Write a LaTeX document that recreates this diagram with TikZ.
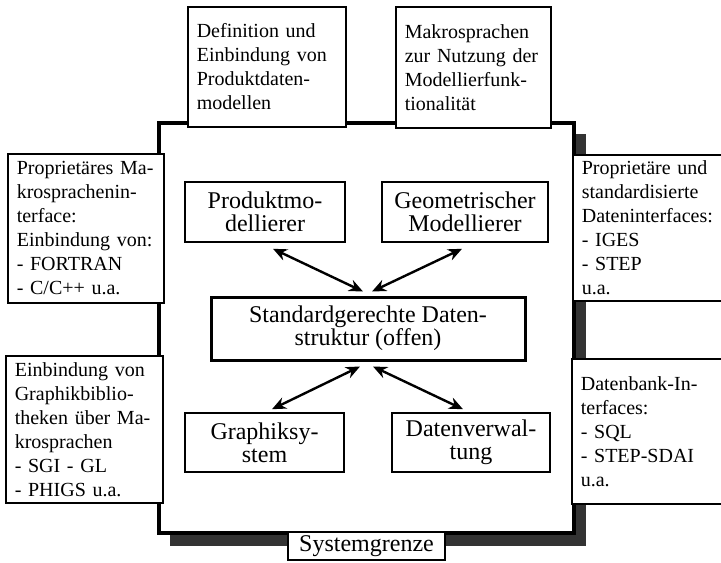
\documentclass[tikz,border=0pt]{standalone}
\usepackage{fontspec}
\setmainfont{Liberation Serif}
\usetikzlibrary{arrows.meta}

\begin{document}
\begin{tikzpicture}[x=0.5pt, y=-0.5pt,
	every node/.style={font=\fontsize{10}{12}\selectfont},
	infobox/.style={draw, line width=0.8pt, fill=white, anchor=north west, align=left, inner xsep=4.5pt, inner ysep=2pt},
	modul/.style={draw, line width=0.8pt, align=center, font=\fontsize{12}{11.5}\selectfont, inner sep=2pt},
	pfeil/.style={{Stealth[length=7pt,width=6pt]}-{Stealth[length=7pt,width=6pt]}, line width=1.2pt}]
	\useasboundingbox (0,0) rectangle (721,562);
	% Systemgrenze mit Schatten
	\fill[black!80] (170,134) rectangle (586,546);
	\draw[line width=1.6pt, fill=white] (159,123) rectangle (574,533);
	% Module im System
	\node[modul, minimum width=80pt, minimum height=30pt] (prod) at (265,212) {Produktmo-\\dellierer};
	\node[modul, minimum width=83pt, minimum height=30pt] (geo) at (465,212) {Geometrischer\\Modellierer};
	\node[modul, line width=1.5pt, minimum width=157pt, minimum height=31.5pt] (daten) at (368,328.5) {Standardgerechte Daten-\\struktur (offen)};
	\node[modul, minimum width=79.5pt, minimum height=29.5pt] (graph) at (264.5,442.5) {Graphiksy-\\stem};
	\node[modul, minimum width=79pt, minimum height=29.5pt] (verw) at (471,442.5) {Datenverwal-\\tung};
	\draw[pfeil] ([xshift=4pt,yshift=-3pt]prod.south) -- ([xshift=-2.5pt,yshift=2pt]daten.north);
	\draw[pfeil] ([xshift=-1.5pt,yshift=-3pt]geo.south) -- ([xshift=2pt,yshift=2pt]daten.north);
	\draw[pfeil] ([xshift=-4pt,yshift=-2.5pt]daten.south) -- ([xshift=3.75pt,yshift=1.5pt]graph.north);
	\draw[pfeil] ([xshift=2.5pt,yshift=-2.5pt]daten.south) -- ([xshift=-4pt,yshift=1.5pt]verw.north);
	% Schnittstellen nach aussen
	\node[infobox, text width=70pt, minimum height=60pt] (defbox) at (187,6) {Definition und\\Einbindung von\\Produktdaten-\\modellen};
	\node[infobox, text width=68.5pt, minimum height=60.5pt] (makro) at (395,6) {Makrosprachen\\zur Nutzung der\\Modellierfunk-\\tionalität};
	\node[infobox, text width=69pt, minimum height=74.5pt] (propmak) at (7,153) {Proprietäres Ma-\\krosprachenin-\\terface:\\Einbindung von:\\- FORTRAN\\- C/C++ u.a.};
	\node[infobox, text width=69.5pt, minimum height=73.5pt] (graphbib) at (5,355) {Einbindung von\\Graphikbiblio-\\theken über Ma-\\krosprachen\\- SGI - GL\\- PHIGS u.a.};
	\node[infobox, text width=70pt, minimum height=73pt] (dateninter) at (572,154) {Proprietäre und\\standardisierte\\Dateninterfaces:\\- IGES\\- STEP\\u.a.};
	\node[infobox, text width=70pt, minimum height=72.5pt] (datenbank) at (571,358) {Datenbank-In-\\terfaces:\\- SQL\\- STEP-SDAI\\u.a.};
	\node[draw, fill=white, line width=0.8pt, font=\fontsize{12}{12}\selectfont, minimum width=78.5pt, minimum height=14pt, inner sep=1pt] (grenze) at (366.5,546) {Systemgrenze};
\end{tikzpicture}
\end{document}
